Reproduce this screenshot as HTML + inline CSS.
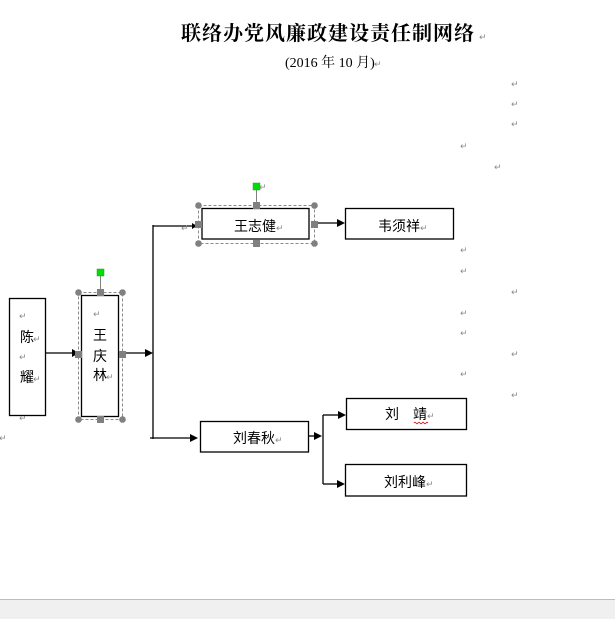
<!DOCTYPE html>
<html><head><meta charset="utf-8">
<style>
html,body{margin:0;padding:0;background:#fff;width:615px;height:619px;overflow:hidden;}
svg{display:block;}
.cj{font-family:"Liberation Sans","Noto Sans CJK SC",sans-serif;font-size:14px;fill:#000;}
.pm{font-family:"DejaVu Sans",sans-serif;font-size:9px;fill:#8a8a8a;}
</style></head><body>
<svg width="615" height="619" viewBox="0 0 615 619" xmlns="http://www.w3.org/2000/svg">
<rect x="0" y="0" width="615" height="599" fill="#fff"/>
<rect x="0" y="599" width="615" height="20" fill="#f0f0f0"/>
<line x1="0" y1="599.5" x2="615" y2="599.5" stroke="#bdbdbd" stroke-width="1"/>

<!-- Title -->
<text x="181" y="40" font-family="'Liberation Serif','Noto Serif CJK SC',serif" font-size="20" font-weight="bold" fill="#000" letter-spacing="1">联络办党风廉政建设责任制网络</text>
<text x="479" y="40" class="pm">↵</text>
<text x="285" y="67" font-family="'Liberation Serif','Noto Serif CJK SC',serif" font-size="14" fill="#000">(2016 年 10 月)</text>
<text x="374" y="67" class="pm">↵</text>

<!-- right side paragraph marks -->
<g class="pm">
<text x="511" y="87">↵</text>
<text x="511" y="107">↵</text>
<text x="511" y="127">↵</text>
<text x="460" y="149">↵</text>
<text x="494" y="170">↵</text>
<text x="460" y="253">↵</text>
<text x="460" y="274">↵</text>
<text x="511" y="295">↵</text>
<text x="460" y="316">↵</text>
<text x="460" y="336">↵</text>
<text x="511" y="357">↵</text>
<text x="460" y="377">↵</text>
<text x="511" y="398">↵</text>
<text x="-1" y="441">↵</text>
<text x="19" y="421">↵</text>
</g>

<!-- Connectors -->
<g stroke="#000" stroke-width="1.3" fill="none">
<line x1="46" y1="353" x2="73" y2="353"/>
<line x1="123" y1="353" x2="146" y2="353"/>
<line x1="153" y1="225" x2="153" y2="439"/>
<line x1="153" y1="226" x2="192" y2="226"/>
<line x1="150" y1="438" x2="191" y2="438"/>
<line x1="314" y1="223" x2="338" y2="223"/>
<line x1="309" y1="436" x2="315" y2="436"/>
<line x1="323" y1="415" x2="323" y2="484"/>
<line x1="323" y1="415" x2="339" y2="415"/>
<line x1="323" y1="484" x2="338" y2="484"/>
</g>
<g fill="#000">
<polygon points="72,349 79,353 72,357"/>
<polygon points="145,349 153,353 145,357"/>
<polygon points="192,223 197,226 192,229"/>
<polygon points="190,434 198,438 190,442"/>
<polygon points="337,219 345,223 337,227"/>
<polygon points="314,432 322,436 314,440"/>
<polygon points="338,411 346,415 338,419"/>
<polygon points="337,480 345,484 337,488"/>
</g>
<text x="181" y="231" class="pm">↵</text>

<!-- 陈耀 box -->
<rect x="9.5" y="298.5" width="36" height="117" fill="#fff" stroke="#000" stroke-width="1.3"/>
<text x="19" y="319" class="pm">↵</text>
<text x="20" y="342" class="cj">陈</text>
<text x="33" y="342" class="pm">↵</text>
<text x="19" y="360" class="pm">↵</text>
<text x="20" y="382" class="cj">耀</text>
<text x="33" y="382" class="pm">↵</text>

<!-- 王庆林 selection -->
<rect x="78.5" y="292.5" width="44" height="127" fill="none" stroke="#8a8a8a" stroke-width="1" stroke-dasharray="3,2"/>
<line x1="100.5" y1="273" x2="100.5" y2="292" stroke="#808080" stroke-width="1"/>
<rect x="81.5" y="295.5" width="37" height="121" fill="#fff" stroke="#000" stroke-width="1.3"/>
<text x="93" y="317" class="pm">↵</text>
<text x="93" y="340" class="cj">王</text>
<text x="93" y="361" class="cj">庆</text>
<text x="93" y="380" class="cj">林</text>
<text x="106" y="380" class="pm">↵</text>
<g fill="#808080">
<circle cx="78.5" cy="292.5" r="3.3"/><circle cx="122.5" cy="292.5" r="3.3"/>
<circle cx="78.5" cy="419.5" r="3.3"/><circle cx="122.5" cy="419.5" r="3.3"/>
<rect x="97" y="289" width="7" height="7"/><rect x="97" y="416" width="7" height="7"/>
<rect x="75" y="351" width="7" height="7"/><rect x="119" y="351" width="7" height="7"/>
</g>
<rect x="97" y="269" width="7" height="7" fill="#00e000" stroke="#2a9a2a" stroke-width="0.5"/>

<!-- 王志健 selection -->
<rect x="198.5" y="205.5" width="116" height="38" fill="none" stroke="#8a8a8a" stroke-width="1" stroke-dasharray="3,2"/>
<line x1="256.5" y1="187" x2="256.5" y2="205" stroke="#808080" stroke-width="1"/>
<rect x="202" y="208.5" width="107" height="30.5" fill="#fff" stroke="#000" stroke-width="1.3"/>
<text x="234" y="231" class="cj">王志健</text>
<text x="276" y="231" class="pm">↵</text>
<g fill="#808080">
<circle cx="198.5" cy="205.5" r="3.3"/><circle cx="314.5" cy="205.5" r="3.3"/>
<circle cx="198.5" cy="243.5" r="3.3"/><circle cx="314.5" cy="243.5" r="3.3"/>
<rect x="253" y="202" width="7" height="7"/><rect x="253" y="240" width="7" height="7"/>
<rect x="195" y="221" width="7" height="7"/><rect x="311" y="221" width="7" height="7"/>
</g>
<rect x="253" y="183" width="7" height="7" fill="#00e000" stroke="#2a9a2a" stroke-width="0.5"/>
<text x="259" y="190" class="pm">↵</text>

<!-- 韦须祥 -->
<rect x="345.5" y="208.5" width="108" height="30.5" fill="#fff" stroke="#000" stroke-width="1.3"/>
<text x="378" y="231" class="cj">韦须祥</text>
<text x="420" y="231" class="pm">↵</text>

<!-- 刘春秋 -->
<rect x="200.5" y="421.5" width="108" height="30.5" fill="#fff" stroke="#000" stroke-width="1.3"/>
<text x="233" y="443" class="cj">刘春秋</text>
<text x="275" y="443" class="pm">↵</text>

<!-- 刘 靖 -->
<rect x="346.5" y="398.5" width="120" height="31" fill="#fff" stroke="#000" stroke-width="1.3"/>
<text x="385" y="419" class="cj">刘</text>
<text x="413" y="419" class="cj">靖</text>
<text x="427" y="419" class="pm">↵</text>
<path d="M414 423 q1 -1.5 2 0 t2 0 t2 0 t2 0 t2 0 t2 0 t2 0" stroke="#e02020" stroke-width="0.9" fill="none"/>

<!-- 刘利峰 -->
<rect x="345.5" y="464.5" width="121" height="31.5" fill="#fff" stroke="#000" stroke-width="1.3"/>
<text x="384" y="487" class="cj">刘利峰</text>
<text x="426" y="487" class="pm">↵</text>
</svg>
</body></html>
